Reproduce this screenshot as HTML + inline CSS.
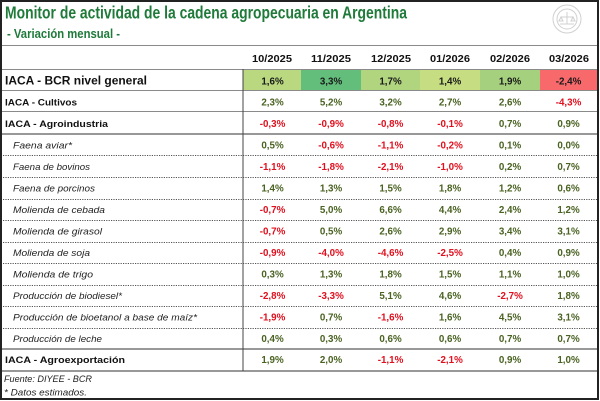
<!DOCTYPE html>
<html><head><meta charset="utf-8"><style>
html,body{margin:0;padding:0;background:#fff;}
svg{display:block;}
text{font-family:"Liberation Sans",Arial,sans-serif;}
</style></head><body>
<svg width="600" height="401" viewBox="0 0 600 401" xmlns="http://www.w3.org/2000/svg">
<rect x="0" y="0" width="600" height="401" fill="#fff"/>
<!-- title -->
<text x="5" y="18.5" font-size="17.5" font-weight="bold" fill="#1F7A3A" textLength="402" lengthAdjust="spacingAndGlyphs">Monitor de actividad de la cadena agropecuaria en Argentina</text>
<text x="7" y="38" font-size="12.5" font-weight="bold" fill="#1F7A3A" textLength="113" lengthAdjust="spacingAndGlyphs">- Variación mensual -</text>
<!-- logo -->
<g fill="none" stroke="#d0d0d0" stroke-width="1">
<circle cx="567" cy="19" r="14"/>
<circle cx="567" cy="19" r="10"/>
<path d="M560 24 h14 M567 12 v12 M561 17 h12 M561 17 l-2 4 h4 z M573 17 l-2 4 h4 z"/>
</g>
<!-- colored cells -->
<rect x="243" y="70" width="58" height="20" fill="#B9D880"/>
<rect x="301" y="70" width="60" height="20" fill="#63BE7B"/>
<rect x="361" y="70" width="59" height="20" fill="#B1D47F"/>
<rect x="420" y="70" width="60" height="20" fill="#C6DD81"/>
<rect x="480" y="70" width="60" height="20" fill="#A5D07E"/>
<rect x="540" y="70" width="57" height="20" fill="#F8696B"/>
<!-- horizontal lines -->
<g stroke="#8a8a8a" stroke-width="1">
<line x1="1" y1="45.5" x2="598" y2="45.5"/>
<line x1="1" y1="69.5" x2="598" y2="69.5"/>
<line x1="1" y1="90.5" x2="598" y2="90.5"/>
<line x1="1" y1="111.5" x2="598" y2="111.5"/>
</g>
<line x1="1" y1="134" x2="598" y2="134" stroke="#777" stroke-width="1.6"/>
<g stroke="#555" stroke-width="1" stroke-dasharray="1.2,1.2">
<line x1="3" y1="155.5" x2="597" y2="155.5"/>
<line x1="3" y1="177.5" x2="597" y2="177.5"/>
<line x1="3" y1="199.5" x2="597" y2="199.5"/>
<line x1="3" y1="220.5" x2="597" y2="220.5"/>
<line x1="3" y1="242.5" x2="597" y2="242.5"/>
<line x1="3" y1="263.5" x2="597" y2="263.5"/>
<line x1="3" y1="285.5" x2="597" y2="285.5"/>
<line x1="3" y1="306.5" x2="597" y2="306.5"/>
<line x1="3" y1="328.5" x2="597" y2="328.5"/>
</g>
<line x1="1" y1="349" x2="598" y2="349" stroke="#777" stroke-width="1.6"/>
<line x1="1" y1="371" x2="598" y2="371" stroke="#777" stroke-width="1.4"/>
<!-- vertical -->
<line x1="243" y1="69" x2="243" y2="371" stroke="#444" stroke-width="1"/>
<!-- outer border -->
<rect x="1" y="1" width="597" height="398" fill="none" stroke="#222" stroke-width="2"/>
<!-- header -->
<g font-size="10.5" font-weight="bold" fill="#111" text-anchor="middle">
<text x="272" y="62" textLength="40" lengthAdjust="spacingAndGlyphs">10/2025</text>
<text x="331" y="62" textLength="40" lengthAdjust="spacingAndGlyphs">11/2025</text>
<text x="391" y="62" textLength="40" lengthAdjust="spacingAndGlyphs">12/2025</text>
<text x="450" y="62" textLength="40" lengthAdjust="spacingAndGlyphs">01/2026</text>
<text x="510" y="62" textLength="40" lengthAdjust="spacingAndGlyphs">02/2026</text>
<text x="569" y="62" textLength="40" lengthAdjust="spacingAndGlyphs">03/2026</text>
</g>
<!-- row labels -->
<g font-weight="bold" fill="#111">
<text x="5" y="84.5" font-size="11.5" textLength="142" lengthAdjust="spacingAndGlyphs">IACA - BCR nivel general</text>
<text x="5" y="105.5" font-size="9.6" textLength="72" lengthAdjust="spacingAndGlyphs">IACA - Cultivos</text>
<text x="5" y="127" font-size="9.6" textLength="103" lengthAdjust="spacingAndGlyphs">IACA - Agroindustria</text>
<text x="5" y="363" font-size="9.6" textLength="120" lengthAdjust="spacingAndGlyphs">IACA - Agroexportación</text>
</g>
<g font-style="italic" font-size="9.4" fill="#222">
<text x="13" y="148.5" textLength="59" lengthAdjust="spacingAndGlyphs">Faena aviar*</text>
<text x="13" y="170" textLength="77" lengthAdjust="spacingAndGlyphs">Faena de bovinos</text>
<text x="13" y="191.5" textLength="82" lengthAdjust="spacingAndGlyphs">Faena de porcinos</text>
<text x="13" y="213" textLength="92" lengthAdjust="spacingAndGlyphs">Molienda de cebada</text>
<text x="13" y="234.5" textLength="89" lengthAdjust="spacingAndGlyphs">Molienda de girasol</text>
<text x="13" y="256" textLength="77" lengthAdjust="spacingAndGlyphs">Molienda de soja</text>
<text x="13" y="277.5" textLength="80" lengthAdjust="spacingAndGlyphs">Molienda de trigo</text>
<text x="13" y="299" textLength="109" lengthAdjust="spacingAndGlyphs">Producción de biodiesel*</text>
<text x="13" y="320.5" textLength="184" lengthAdjust="spacingAndGlyphs">Producción de bioetanol a base de maíz*</text>
<text x="13" y="342" textLength="89" lengthAdjust="spacingAndGlyphs">Producción de leche</text>
</g>
<g font-style="italic" font-size="9" fill="#222">
<text x="4" y="382" textLength="88" lengthAdjust="spacingAndGlyphs">Fuente: DIYEE - BCR</text>
<text x="4" y="395.5" textLength="83" lengthAdjust="spacingAndGlyphs">* Datos estimados.</text>
</g>
<!-- IACA general values -->
<g font-size="9.8" font-weight="bold" fill="#1a1a1a" text-anchor="middle">
<text x="272.5" y="84.3">1,6%</text>
<text x="331" y="84.3">3,3%</text>
<text x="390.5" y="84.3">1,7%</text>
<text x="450" y="84.3">1,4%</text>
<text x="510" y="84.3">1,9%</text>
<text x="568.5" y="84.3">-2,4%</text>
</g>
<!-- values -->
<g font-size="9.8" font-weight="bold" text-anchor="middle">
<text x="272.5" y="105.3" fill="#4A6222">2,3%</text>
<text x="331" y="105.3" fill="#4A6222">5,2%</text>
<text x="390.5" y="105.3" fill="#4A6222">3,2%</text>
<text x="450" y="105.3" fill="#4A6222">2,7%</text>
<text x="510" y="105.3" fill="#4A6222">2,6%</text>
<text x="568.5" y="105.3" fill="#E0101E">-4,3%</text>
<text x="272.5" y="127" fill="#E0101E">-0,3%</text>
<text x="331" y="127" fill="#E0101E">-0,9%</text>
<text x="390.5" y="127" fill="#E0101E">-0,8%</text>
<text x="450" y="127" fill="#E0101E">-0,1%</text>
<text x="510" y="127" fill="#4A6222">0,7%</text>
<text x="568.5" y="127" fill="#4A6222">0,9%</text>
<text x="272.5" y="148.5" fill="#4A6222">0,5%</text>
<text x="331" y="148.5" fill="#E0101E">-0,6%</text>
<text x="390.5" y="148.5" fill="#E0101E">-1,1%</text>
<text x="450" y="148.5" fill="#E0101E">-0,2%</text>
<text x="510" y="148.5" fill="#4A6222">0,1%</text>
<text x="568.5" y="148.5" fill="#4A6222">0,0%</text>
<text x="272.5" y="170" fill="#E0101E">-1,1%</text>
<text x="331" y="170" fill="#E0101E">-1,8%</text>
<text x="390.5" y="170" fill="#E0101E">-2,1%</text>
<text x="450" y="170" fill="#E0101E">-1,0%</text>
<text x="510" y="170" fill="#4A6222">0,2%</text>
<text x="568.5" y="170" fill="#4A6222">0,7%</text>
<text x="272.5" y="191.5" fill="#4A6222">1,4%</text>
<text x="331" y="191.5" fill="#4A6222">1,3%</text>
<text x="390.5" y="191.5" fill="#4A6222">1,5%</text>
<text x="450" y="191.5" fill="#4A6222">1,8%</text>
<text x="510" y="191.5" fill="#4A6222">1,2%</text>
<text x="568.5" y="191.5" fill="#4A6222">0,6%</text>
<text x="272.5" y="213" fill="#E0101E">-0,7%</text>
<text x="331" y="213" fill="#4A6222">5,0%</text>
<text x="390.5" y="213" fill="#4A6222">6,6%</text>
<text x="450" y="213" fill="#4A6222">4,4%</text>
<text x="510" y="213" fill="#4A6222">2,4%</text>
<text x="568.5" y="213" fill="#4A6222">1,2%</text>
<text x="272.5" y="234.5" fill="#E0101E">-0,7%</text>
<text x="331" y="234.5" fill="#4A6222">0,5%</text>
<text x="390.5" y="234.5" fill="#4A6222">2,6%</text>
<text x="450" y="234.5" fill="#4A6222">2,9%</text>
<text x="510" y="234.5" fill="#4A6222">3,4%</text>
<text x="568.5" y="234.5" fill="#4A6222">3,1%</text>
<text x="272.5" y="256" fill="#E0101E">-0,9%</text>
<text x="331" y="256" fill="#E0101E">-4,0%</text>
<text x="390.5" y="256" fill="#E0101E">-4,6%</text>
<text x="450" y="256" fill="#E0101E">-2,5%</text>
<text x="510" y="256" fill="#4A6222">0,4%</text>
<text x="568.5" y="256" fill="#4A6222">0,9%</text>
<text x="272.5" y="277.5" fill="#4A6222">0,3%</text>
<text x="331" y="277.5" fill="#4A6222">1,3%</text>
<text x="390.5" y="277.5" fill="#4A6222">1,8%</text>
<text x="450" y="277.5" fill="#4A6222">1,5%</text>
<text x="510" y="277.5" fill="#4A6222">1,1%</text>
<text x="568.5" y="277.5" fill="#4A6222">1,0%</text>
<text x="272.5" y="299" fill="#E0101E">-2,8%</text>
<text x="331" y="299" fill="#E0101E">-3,3%</text>
<text x="390.5" y="299" fill="#4A6222">5,1%</text>
<text x="450" y="299" fill="#4A6222">4,6%</text>
<text x="510" y="299" fill="#E0101E">-2,7%</text>
<text x="568.5" y="299" fill="#4A6222">1,8%</text>
<text x="272.5" y="320.5" fill="#E0101E">-1,9%</text>
<text x="331" y="320.5" fill="#4A6222">0,7%</text>
<text x="390.5" y="320.5" fill="#E0101E">-1,6%</text>
<text x="450" y="320.5" fill="#4A6222">1,6%</text>
<text x="510" y="320.5" fill="#4A6222">4,5%</text>
<text x="568.5" y="320.5" fill="#4A6222">3,1%</text>
<text x="272.5" y="342" fill="#4A6222">0,4%</text>
<text x="331" y="342" fill="#4A6222">0,3%</text>
<text x="390.5" y="342" fill="#4A6222">0,6%</text>
<text x="450" y="342" fill="#4A6222">0,6%</text>
<text x="510" y="342" fill="#4A6222">0,7%</text>
<text x="568.5" y="342" fill="#4A6222">0,7%</text>
<text x="272.5" y="363" fill="#4A6222">1,9%</text>
<text x="331" y="363" fill="#4A6222">2,0%</text>
<text x="390.5" y="363" fill="#E0101E">-1,1%</text>
<text x="450" y="363" fill="#E0101E">-2,1%</text>
<text x="510" y="363" fill="#4A6222">0,9%</text>
<text x="568.5" y="363" fill="#4A6222">1,0%</text>
</g>
</svg>
</body></html>
